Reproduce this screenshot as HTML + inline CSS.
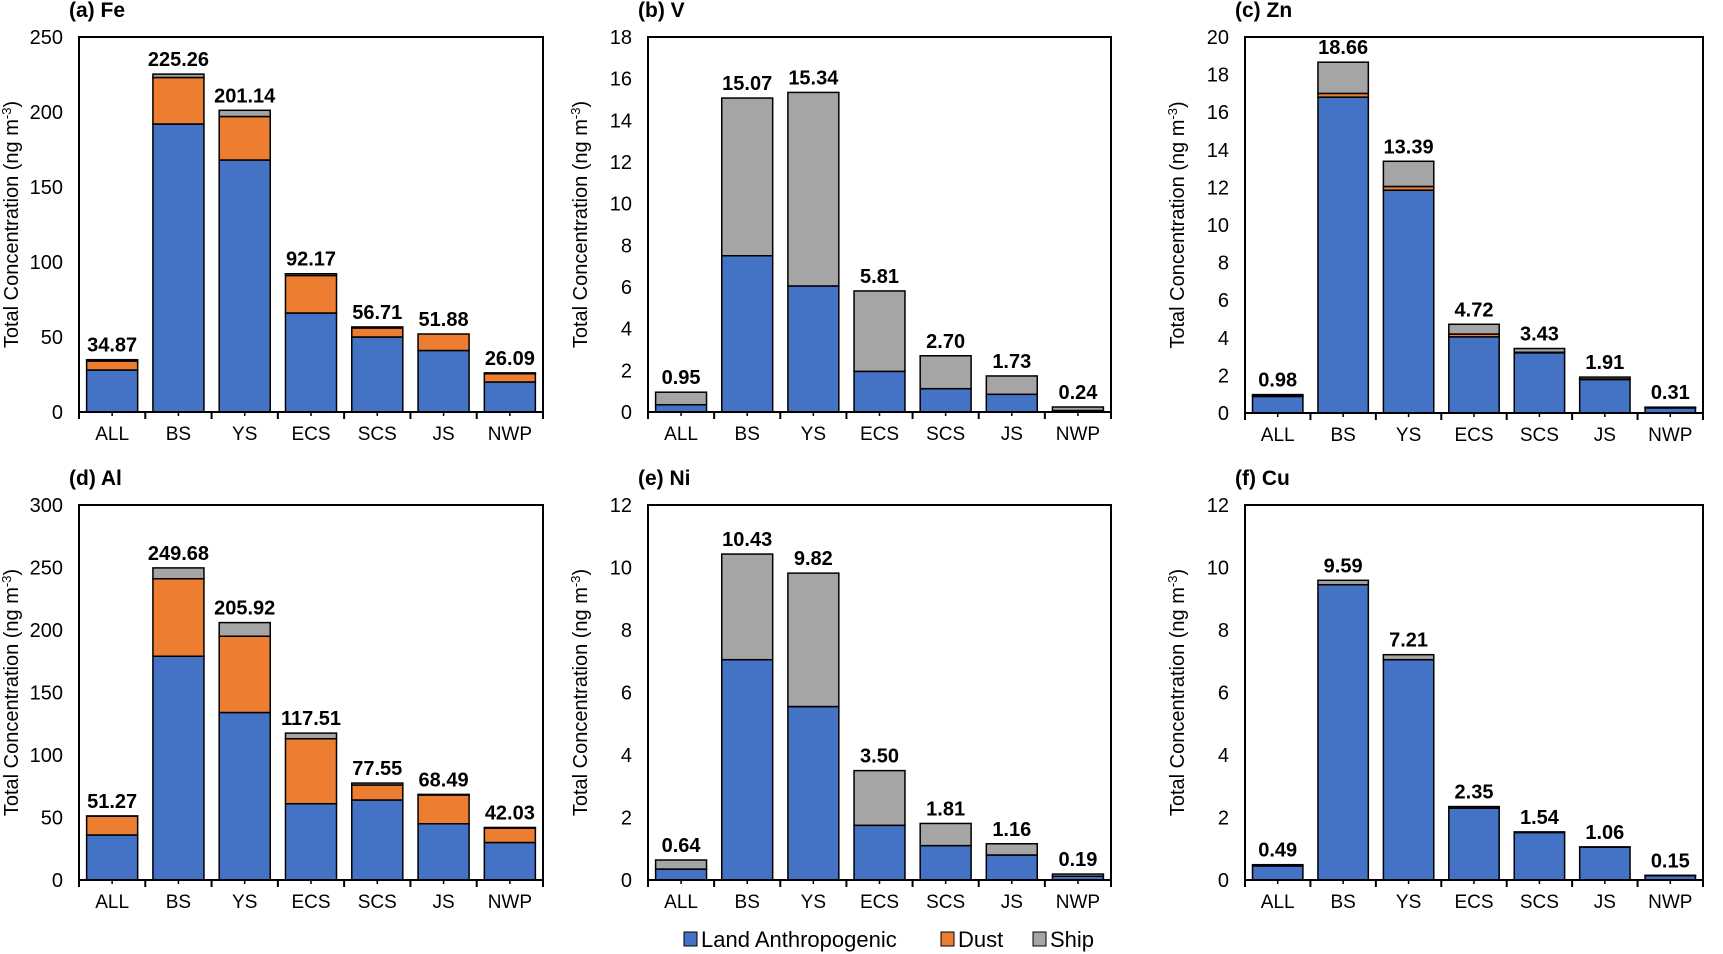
<!DOCTYPE html>
<html><head><meta charset="utf-8">
<style>
html,body{margin:0;padding:0;background:#fff;}
svg{display:block;font-family:"Liberation Sans",Arial,sans-serif;}
</style></head>
<body>
<svg id="chart" width="1723" height="954" viewBox="0 0 1723 954" xmlns="http://www.w3.org/2000/svg"></svg>
<script>
const categories = ["ALL","BS","YS","ECS","SCS","JS","NWP"];
const feTotal = [34.87,225.26,201.14,92.17,56.71,51.88,26.09];
const feLand = [28,192,168,66,50,41,20];
const feDust = [6,31,29,25,6,11,5.5];
const vTotal = [0.95,15.07,15.34,5.81,2.70,1.73,0.24];
const vLand = [0.35,7.5,6.05,1.95,1.12,0.85,0.07];
const vDust = [0,0,0,0,0,0,0];
const znTotal = [0.98,18.66,13.39,4.72,3.43,1.91,0.31];
const znLand = [0.88,16.8,11.85,4.05,3.2,1.78,0.27];
const znDust = [0.02,0.2,0.2,0.15,0.03,0.03,0.01];
const alTotal = [51.27,249.68,205.92,117.51,77.55,68.49,42.03];
const alLand = [36,179,134,61,64,45,30];
const alDust = [15,62,61,52,12,23,11.5];
const niTotal = [0.64,10.43,9.82,3.50,1.81,1.16,0.19];
const niLand = [0.35,7.05,5.55,1.75,1.1,0.8,0.12];
const niDust = [0,0,0,0,0,0,0];
const cuTotal = [0.49,9.59,7.21,2.35,1.54,1.06,0.15];
const cuLand = [0.45,9.45,7.05,2.3,1.52,1.05,0.14];
const cuDust = [0,0,0,0,0,0,0];
const feTicks = [0,50,100,150,200,250];
const vTicks = [0,2,4,6,8,10,12,14,16,18];
const znTicks = [0,2,4,6,8,10,12,14,16,18,20];
const alTicks = [0,50,100,150,200,250,300];
const niTicks = [0,2,4,6,8,10,12];
const cuTicks = [0,2,4,6,8,10,12];

const NS="http://www.w3.org/2000/svg";
const svg=document.getElementById('chart');
function mk(tag,attrs,parent){const e=document.createElementNS(NS,tag);for(const k in attrs)e.setAttribute(k,attrs[k]);(parent||svg).appendChild(e);return e;}
const COL={land:"#4472C4",dust:"#ED7D31",ship:"#A5A5A5"};

function panel(id,title,x0,x1,y0,y1,ticks,total,land,dust){
  const g=mk('g',{});
  
  
  const ymax=ticks[ticks.length-1];
  const ys=v=>y1-(v/ymax)*(y1-y0);
  const cw=(x1-x0)/categories.length;
  const xs=i=>x0+cw*(i+0.5);
  const t=mk('text',{x:x0-10,y:y0-20,'font-size':21,'font-weight':'bold',fill:'#000'},g);
  t.textContent=title;
  
  
  const yl=mk('text',{transform:`translate(${x0-61},${(y0+y1)/2}) rotate(-90)`,'text-anchor':'middle','font-size':20,fill:'#000'},g);
  yl.innerHTML='Total Concentration (ng m<tspan dy="-7" font-size="13">-3</tspan><tspan dy="7">)</tspan>';
  
  
  ticks.forEach(v=>{
    const tl=mk('text',{x:x0-16,y:ys(v)+7,'text-anchor':'end','font-size':20,fill:'#000'},g);
    tl.textContent=v;
    
    
  });
  const bw=cw*0.77;
  categories.forEach((c,i)=>{
    const ship=Math.max(0,total[i]-land[i]-dust[i]);
    let base=0;
    [[land[i],COL.land,'land'],[dust[i],COL.dust,'dust'],[ship,COL.ship,'ship']].forEach(([v,col,nm])=>{
      if(v<=0)return;
      const r=mk('rect',{x:xs(i)-bw/2,y:ys(base+v),width:bw,height:ys(base)-ys(base+v),fill:col,stroke:'#000','stroke-width':1.5},g);
      
      
      base+=v;
    });
    const vl=mk('text',{x:xs(i),y:ys(total[i])-8,'text-anchor':'middle','font-size':20,'font-weight':'bold',fill:'#000'},g);
    vl.textContent=total[i].toFixed(2);
    
    
    const xl=mk('text',{x:xs(i),y:y1+28,'text-anchor':'middle','font-size':19,fill:'#000'},g);
    xl.textContent=c;
    
    
  });
  for(let i=0;i<=categories.length;i++){
    mk('line',{x1:x0+cw*i,x2:x0+cw*i,y1:y1,y2:y1+7,stroke:'#000','stroke-width':2},g);
    if(i<categories.length) mk('line',{x1:xs(i),x2:xs(i),y1:y1,y2:y1+4,stroke:'#000','stroke-width':1.5},g);
  }
  const fr=mk('rect',{x:x0,y:y0,width:x1-x0,height:y1-y0,fill:'none',stroke:'#000','stroke-width':2},g);
  
  
}
panel('fe','(a) Fe',79,543,37,412,feTicks,feTotal,feLand,feDust);
panel('v','(b) V',648,1111,37,412,vTicks,vTotal,vLand,vDust);
panel('zn','(c) Zn',1245,1703,37,413,znTicks,znTotal,znLand,znDust);
panel('al','(d) Al',79,543,505,880,alTicks,alTotal,alLand,alDust);
panel('ni','(e) Ni',648,1111,505,880,niTicks,niTotal,niLand,niDust);
panel('cu','(f) Cu',1245,1703,505,880,cuTicks,cuTotal,cuLand,cuDust);

const lg=mk('g',{});


[['Land Anthropogenic',COL.land,684],['Dust',COL.dust,941],['Ship',COL.ship,1033]].forEach(([n,c,x])=>{
  const e=mk('g',{},lg);
  
  
  mk('rect',{x:x,y:932,width:13,height:14,fill:c,stroke:'#000','stroke-width':1},e);
  const t=mk('text',{x:x+17,y:947,'font-size':22,fill:'#000'},e);
  t.textContent=n;
});
</script>
</body></html>
